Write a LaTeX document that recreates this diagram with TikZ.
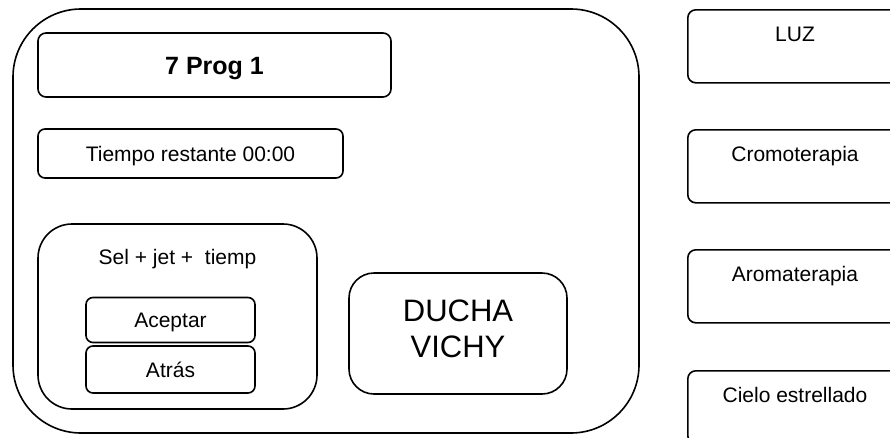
\documentclass[tikz,border=0pt]{standalone}
\usepackage{fontspec}
\setmainfont{Liberation Sans}
\usetikzlibrary{positioning}
\usetikzlibrary{calc}
\tikzset{every picture/.style={line width=1.6pt}}

\begin{document}
\begin{tikzpicture}[x=1pt,y=-1pt,box/.style={draw, rounded corners=8pt, inner sep=0pt, text height=15pt, text depth=0pt, font=\fontsize{21}{25}\selectfont},txt/.style={font=\fontsize{21}{25}\selectfont, text height=15pt, text depth=0pt, inner sep=0pt}]
\useasboundingbox (0,0) rectangle (890,437);
\clip (0,0) rectangle (890,437);
\node (pantalla) at (326,221) [box,rounded corners=68pt,minimum width=626pt,minimum height=424pt] {};
\node (prog) at (214.5,65) [box,minimum width=353pt,minimum height=64pt,text height=18pt,font=\fontsize{25}{30}\selectfont\bfseries] {7 Prog 1};
\node (tiempo) at (190.5,153.5) [box,rounded corners=7pt,minimum width=305pt,minimum height=49pt] {Tiempo restante 00:00};
\node (sel) at (177.5,316.5) [box,rounded corners=34pt,minimum width=279pt,minimum height=185pt] {};
\node (selt) at ($(sel.north)+(0,34)$) [txt] {Sel + jet +\ \ tiemp};
\node (aceptar) at (170.5,320) [box,rounded corners=7pt,minimum width=169pt,minimum height=45pt] {Aceptar};
\node (atras) at (170.5,369.5) [box,rounded corners=7pt,minimum width=169pt,minimum height=47pt] {Atrás};
\node (ducha) at (458,333.5) [box,rounded corners=25pt,minimum width=218pt,minimum height=121pt] {};
\node (duchat) at ($(ducha)+(0,-5)$) [align=center,inner sep=0pt,font=\fontsize{31}{36}\selectfont] {DUCHA\\VICHY};
\foreach \n/\t/\y in {luz/LUZ/9,cromo/Cromoterapia/129,aroma/Aromaterapia/249,cielo/Cielo estrellado/370} {
\node (\n) at (687,\y) [box,anchor=north west,minimum width=226pt,minimum height=73pt] {};
\node (\n t) at ($(\n.north west)+(108,25)$) [txt] {\t};
}
\end{tikzpicture}
\end{document}
